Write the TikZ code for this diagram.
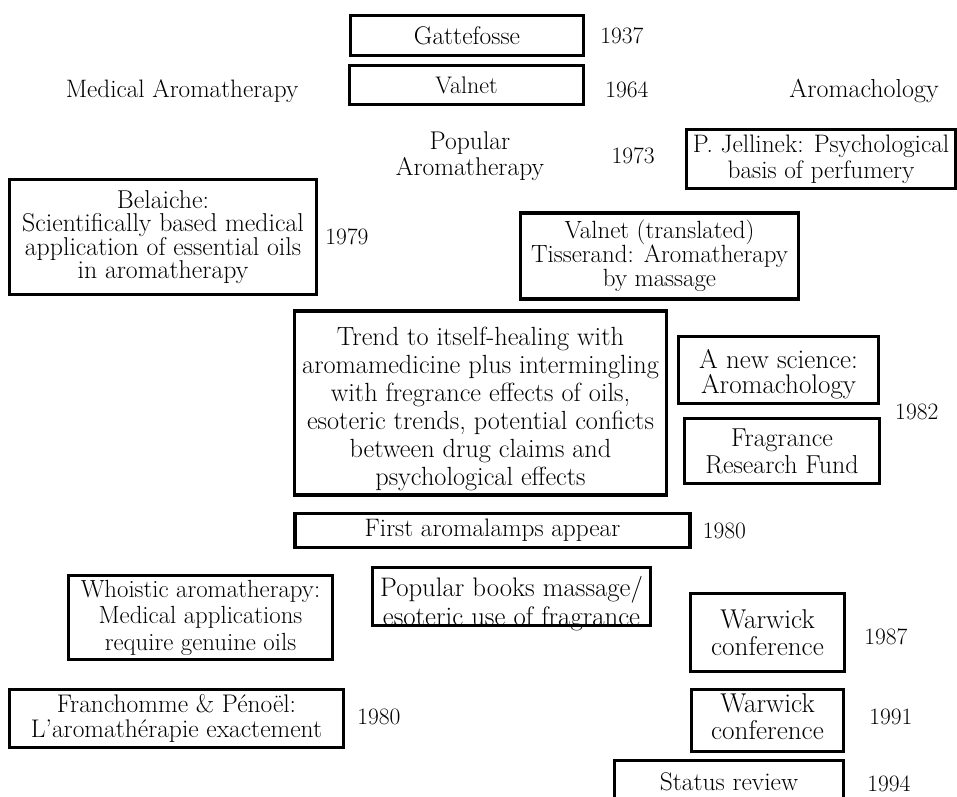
\documentclass[tikz,border=0pt]{standalone}
\usetikzlibrary{positioning}
\newcommand{\fsz}[2]{\fontsize{#1}{#2}\selectfont}

\begin{document}
\begin{tikzpicture}[x=1pt,y=-1pt,
    box/.style={draw, line width=3.2pt, align=center, inner sep=0pt, font=\fsz{25.5}{27}},
    plain/.style={align=center, inner sep=0pt, font=\fsz{25.2}{26}},
    year/.style={inner sep=0pt, font=\fsz{23.5}{26}}]
  \useasboundingbox (0,0) rectangle (957,796);
  % headings
  \node[plain] (medical) at (182,91) {Medical Aromatherapy};
  \node[plain, font=\fsz{26}{26}] (aromach) at (864,91) {Aromachology};
  \node[plain, font=\fsz{25.6}{26}] (popular) at (470,156) {Popular\\Aromatherapy};
  % boxes
  \node[box, minimum width=233, minimum height=40] (gatt) at (467,35.5) {Gattefosse};
  \node[box, minimum width=234, minimum height=39, font=\fsz{24}{26}] (valnet) at (466.5,85) {Valnet};
  \node[box, minimum width=269, minimum height=59, font=\fsz{25.3}{26}] (jellinek) at (821,159)
    {P. Jellinek: Psychological\\basis of perfumery};
  \node[box, minimum width=307, minimum height=115, font=\fsz{25.8}{23.5}] (belaiche) at (163,237)
    {Belaiche:\\Scientifically based medical\\application of essential oils\\in aromatherapy};
  \node[box, minimum width=278, minimum height=86, font=\fsz{24.9}{24}] (tisserand) at (659.5,256)
    {Valnet (translated)\\Tisserand: Aromatherapy\\by massage};
  \node[box, minimum width=372, minimum height=184, font=\fsz{26.3}{28}] (trend) at (480.5,403)
    {\rule{0pt}{30pt}Trend to itself-healing with\\aromamedicine plus intermingling\\with fregrance effects of oils,\\esoteric trends, potential conficts\\between drug claims and\\psychological effects};
  \node[box, minimum width=200, minimum height=67, font=\fsz{27}{25.5}] (science) at (778.5,370)
    {\rule{0pt}{27pt}A new science:\\Aromachology};
  \node[box, minimum width=195, minimum height=65, font=\fsz{25.9}{27}] (fund) at (782,451)
    {Fragrance\\Research Fund};
  \node[box, minimum width=395, minimum height=34, font=\fsz{25.3}{26}] (lamps) at (492.5,530.5)
    {First aromalamps appear};
  \node[box, minimum width=264, minimum height=84, font=\fsz{24.8}{26.5}] (whoistic) at (200.5,617.5)
    {Whoistic aromatherapy:\\Medical applications\\require genuine oils};
  % text sits low, on the bottom edge
  \node[box, minimum width=278, minimum height=58, font=\fsz{26.8}{29}] (books) at (511.5,596.5)
    {\raisebox{-9pt}[\height][\depth]{\begin{tabular}{@{}c@{}}Popular books massage/\\esoteric use of fragrance\end{tabular}}};
  \node[box, minimum width=154, minimum height=78, font=\fsz{27.2}{27}] (warwicka) at (767.5,632.5)
    {Warwick\\conference};
  \node[box, minimum width=334, minimum height=58, font=\fsz{25.5}{25}] (franchomme) at (176.5,718.5)
    {Franchomme \& Pénoël:\\L'aromathérapie exactement};
  \node[box, minimum width=152, minimum height=62, font=\fsz{27.2}{27}] (warwickb) at (767.5,720.5)
    {Warwick\\conference\rule[-8pt]{0pt}{8pt}};
  \node[box, minimum width=229, minimum height=43] (status) at (729,782) {Status review};
  % years
  \node[year, right=15pt of gatt] (y1937) {1937};
  \node[year, right=20pt of valnet, yshift=-5pt] (y1964) {1964};
  \node[year, left=30pt of jellinek, yshift=3pt] (y1973) {1973};
  \node[year, right=7pt of belaiche] (y1979) {1979};
  \node[year, anchor=west] (y1982) at (895,412) {1982};
  \node[year, right=11pt of lamps] (y1980a) {1980};
  \node[year, right=18pt of warwicka, yshift=-4.5pt] (y1987) {1987};
  \node[year, right=12pt of franchomme, yshift=2pt] (y1980b) {1980};
  \node[year, right=24pt of warwickb, yshift=3.5pt] (y1991) {1991};
  \node[year, right=22pt of status, yshift=-2pt] (y1994) {1994};
\end{tikzpicture}
\end{document}
